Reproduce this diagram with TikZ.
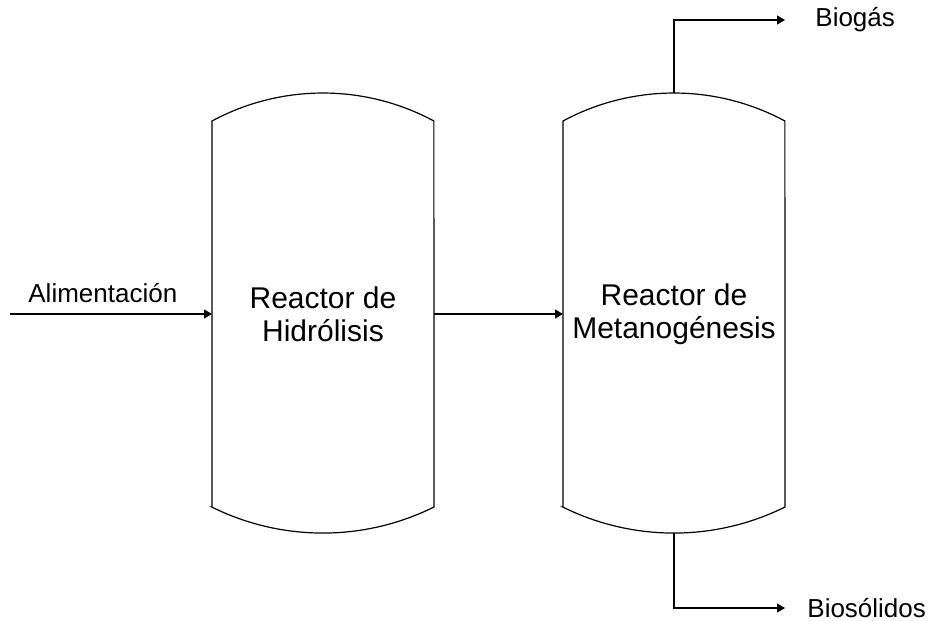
\documentclass[tikz,border=0pt]{standalone}
\usepackage{fontspec}
\setmainfont{Liberation Sans}
\usetikzlibrary{arrows.meta,positioning}

\begin{document}
\begin{tikzpicture}[
    x=0.5pt, y=0.5pt,
    vessel/.style={rectangle, minimum width=111pt, minimum height=193pt, inner sep=0pt, outer sep=0pt, align=center, font=\fontsize{15}{16.5}\selectfont},
    stream/.style={inner sep=0pt, font=\fontsize{13}{15.6}\selectfont},
    flow/.style={-{Triangle[length=4pt, width=4.5pt]}, line width=0.6pt},
    wall/.style={line width=0.6pt},
    node distance=5.5pt and 9pt
]
    \useasboundingbox (0,0) rectangle (929,620);

    % Reactors
    \node[vessel] (hydro) at (323,306) {Reactor de\\Hidrólisis};
    \node[vessel] (meth) at (674,306) {Reactor de\\Metanogénesis};
    \foreach \v in {hydro, meth}
        \draw[wall] (\v.south west) -- (\v.north west)
            arc[start angle=118.3, end angle=61.7, radius=117pt]
            -- (\v.south east)
            arc[start angle=-63.6, end angle=-116.4, radius=125pt] -- cycle;

    % Feed
    \coordinate (feedin) at (10,306);
    \node[stream, above right=5.5pt and 9pt of feedin] (feed) {Alimentación};

    % Products
    \coordinate (gastop) at ([yshift=14pt]meth.north);
    \coordinate (gasout) at (785,600);
    \node[stream, right=15pt of gasout] (biogas) {Biogás};
    \coordinate (solbot) at ([yshift=-13pt]meth.south);
    \coordinate (solout) at (785,12);
    \node[stream, right=11pt of solout] (solids) {Biosólidos};

    % Arrows
    \draw[flow] (feedin) -- (hydro.west);
    \draw[flow] (hydro.east) -- (meth.west);
    \draw[flow] (gastop) |- (gasout);
    \draw[flow] (solbot) |- (solout);
\end{tikzpicture}
\end{document}
